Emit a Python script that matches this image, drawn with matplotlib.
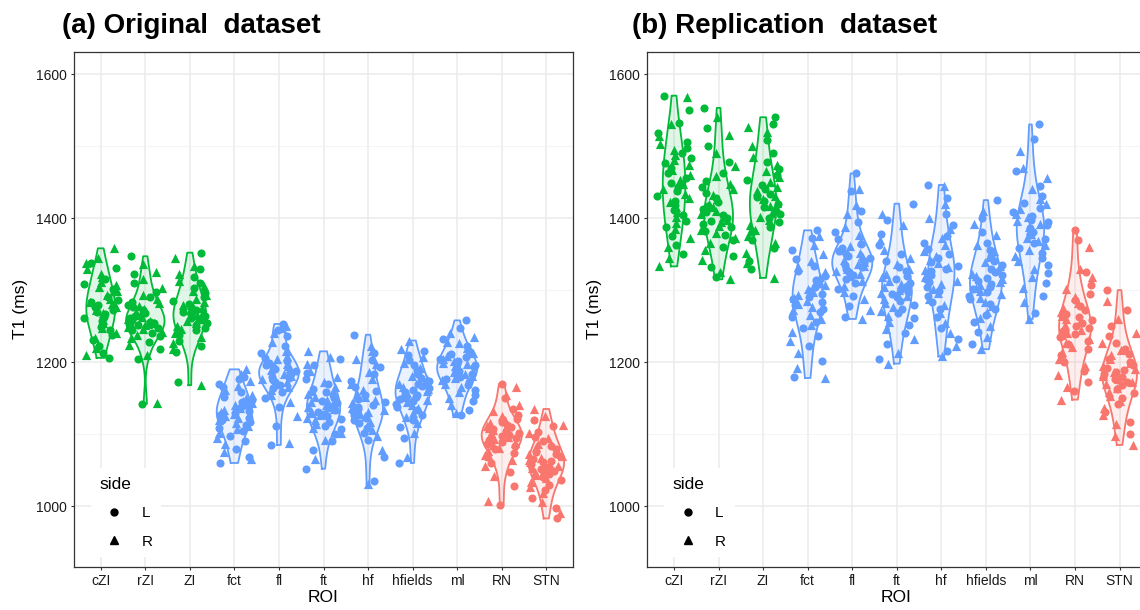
import numpy as np
import matplotlib.pyplot as plt
from matplotlib.lines import Line2D

plt.rcParams['font.family'] = ['Liberation Sans', 'DejaVu Sans']

rois = ["cZI", "rZI", "ZI", "fct", "fl", "ft", "hf", "hfields", "ml", "RN", "STN"]
roi_colors = ["#00BA38"] * 3 + ["#619CFF"] * 6 + ["#F8766D"] * 2

# (a) original dataset, T1 in ms, L = left side (circles), R = right side (triangles)
a_cZI_L = [1206, 1213, 1222, 1231, 1238, 1244, 1249, 1252, 1257, 1261, 1263, 1267, 1270, 1272, 1276, 1279, 1283, 1286, 1291, 1297, 1301, 1308, 1316, 1331, 1338]
a_cZI_R = [1210, 1219, 1234, 1241, 1247, 1254, 1259, 1265, 1268, 1273, 1277, 1281, 1284, 1288, 1293, 1299, 1304, 1307, 1311, 1318, 1323, 1329, 1337, 1344, 1358]
a_rZI_L = [1142, 1205, 1218, 1228, 1236, 1240, 1244, 1247, 1250, 1252, 1254, 1256, 1258, 1261, 1264, 1268, 1272, 1276, 1280, 1284, 1290, 1298, 1310, 1322, 1347]
a_rZI_R = [1143, 1210, 1224, 1233, 1238, 1242, 1246, 1249, 1251, 1253, 1255, 1257, 1260, 1263, 1266, 1270, 1274, 1278, 1282, 1287, 1293, 1303, 1315, 1325, 1336]
a_ZI_L = [1172, 1214, 1222, 1230, 1238, 1244, 1248, 1252, 1255, 1258, 1261, 1264, 1267, 1270, 1273, 1277, 1281, 1285, 1290, 1296, 1303, 1310, 1318, 1330, 1352]
a_ZI_R = [1168, 1218, 1227, 1235, 1241, 1246, 1250, 1254, 1257, 1260, 1263, 1266, 1269, 1272, 1275, 1279, 1283, 1288, 1293, 1299, 1306, 1313, 1322, 1334, 1345]
a_fct_L = [1060, 1068, 1080, 1090, 1098, 1104, 1109, 1113, 1117, 1120, 1123, 1126, 1129, 1132, 1135, 1138, 1141, 1144, 1148, 1152, 1158, 1165, 1170, 1176, 1180]
a_fct_R = [1065, 1075, 1086, 1095, 1101, 1107, 1111, 1115, 1119, 1122, 1125, 1128, 1131, 1134, 1137, 1140, 1143, 1146, 1150, 1155, 1161, 1167, 1174, 1183, 1190]
a_fl_L = [1085, 1112, 1138, 1150, 1158, 1164, 1168, 1172, 1175, 1178, 1180, 1183, 1185, 1188, 1190, 1193, 1196, 1199, 1202, 1206, 1212, 1222, 1236, 1245, 1253]
a_fl_R = [1088, 1125, 1145, 1155, 1161, 1166, 1170, 1173, 1176, 1179, 1181, 1184, 1186, 1189, 1192, 1194, 1197, 1200, 1204, 1209, 1216, 1228, 1240, 1248, 1250]
a_ft_L = [1052, 1078, 1090, 1100, 1107, 1112, 1117, 1121, 1125, 1128, 1131, 1134, 1137, 1140, 1143, 1146, 1150, 1154, 1158, 1163, 1169, 1177, 1185, 1196, 1205]
a_ft_R = [1066, 1092, 1102, 1109, 1114, 1119, 1123, 1126, 1129, 1132, 1135, 1138, 1141, 1144, 1148, 1152, 1156, 1160, 1166, 1172, 1180, 1188, 1198, 1207, 1215]
a_hf_L = [1035, 1068, 1092, 1102, 1109, 1115, 1119, 1123, 1126, 1129, 1132, 1135, 1138, 1141, 1145, 1149, 1154, 1160, 1166, 1174, 1183, 1193, 1203, 1212, 1238]
a_hf_R = [1031, 1078, 1097, 1106, 1112, 1117, 1121, 1125, 1128, 1131, 1134, 1137, 1140, 1143, 1147, 1151, 1156, 1162, 1169, 1177, 1187, 1197, 1205, 1215, 1222]
a_hfields_L = [1060, 1095, 1110, 1120, 1127, 1133, 1138, 1142, 1146, 1149, 1152, 1155, 1158, 1161, 1164, 1167, 1170, 1174, 1178, 1183, 1189, 1196, 1203, 1210, 1215]
a_hfields_R = [1068, 1102, 1115, 1124, 1130, 1136, 1140, 1144, 1148, 1151, 1154, 1157, 1160, 1163, 1166, 1169, 1172, 1176, 1181, 1186, 1192, 1199, 1207, 1218, 1230]
a_ml_L = [1126, 1134, 1146, 1155, 1162, 1168, 1173, 1177, 1180, 1183, 1186, 1188, 1191, 1193, 1196, 1198, 1201, 1204, 1207, 1211, 1216, 1222, 1232, 1248, 1258]
a_ml_R = [1130, 1140, 1150, 1158, 1165, 1170, 1175, 1178, 1181, 1184, 1187, 1189, 1192, 1194, 1197, 1199, 1202, 1205, 1209, 1213, 1219, 1226, 1235, 1240, 1228]
a_RN_L = [1002, 1028, 1048, 1060, 1068, 1074, 1079, 1083, 1086, 1089, 1092, 1094, 1097, 1099, 1102, 1104, 1107, 1110, 1113, 1117, 1121, 1127, 1135, 1150, 1170]
a_RN_R = [1007, 1042, 1056, 1064, 1071, 1076, 1081, 1085, 1088, 1091, 1093, 1096, 1098, 1101, 1103, 1106, 1109, 1112, 1115, 1119, 1125, 1132, 1140, 1155, 1165]
a_STN_L = [983, 998, 1012, 1022, 1030, 1036, 1041, 1045, 1049, 1052, 1055, 1058, 1061, 1063, 1066, 1069, 1072, 1075, 1079, 1084, 1090, 1096, 1103, 1112, 1120]
a_STN_R = [990, 1006, 1018, 1026, 1033, 1039, 1043, 1047, 1050, 1053, 1056, 1059, 1062, 1064, 1067, 1070, 1073, 1077, 1082, 1087, 1094, 1102, 1113, 1125, 1135]

# (b) replication dataset
b_cZI_L = [1350, 1362, 1375, 1388, 1396, 1404, 1411, 1418, 1424, 1430, 1437, 1443, 1449, 1456, 1463, 1470, 1477, 1484, 1490, 1497, 1506, 1518, 1532, 1550, 1570]
b_cZI_R = [1333, 1345, 1360, 1372, 1385, 1393, 1401, 1408, 1415, 1422, 1428, 1434, 1441, 1447, 1453, 1460, 1467, 1474, 1481, 1488, 1495, 1503, 1514, 1530, 1568]
b_rZI_L = [1318, 1332, 1348, 1360, 1369, 1376, 1382, 1387, 1392, 1396, 1400, 1404, 1408, 1412, 1417, 1422, 1428, 1435, 1443, 1452, 1463, 1478, 1500, 1525, 1553]
b_rZI_R = [1315, 1325, 1342, 1355, 1365, 1373, 1379, 1384, 1389, 1394, 1398, 1402, 1406, 1410, 1415, 1420, 1426, 1432, 1440, 1448, 1458, 1472, 1490, 1515, 1540]
b_ZI_L = [1330, 1340, 1358, 1370, 1380, 1388, 1394, 1400, 1405, 1410, 1415, 1419, 1424, 1429, 1434, 1440, 1446, 1453, 1460, 1468, 1478, 1490, 1508, 1530, 1540]
b_ZI_R = [1317, 1337, 1352, 1365, 1375, 1384, 1391, 1397, 1402, 1407, 1412, 1417, 1421, 1426, 1431, 1437, 1443, 1450, 1457, 1465, 1474, 1485, 1500, 1520, 1527]
b_fct_L = [1180, 1202, 1222, 1236, 1247, 1256, 1263, 1269, 1274, 1279, 1283, 1287, 1291, 1295, 1299, 1304, 1309, 1314, 1320, 1327, 1334, 1343, 1355, 1372, 1383]
b_fct_R = [1178, 1192, 1212, 1229, 1242, 1252, 1260, 1266, 1272, 1277, 1281, 1285, 1289, 1293, 1297, 1302, 1307, 1312, 1318, 1325, 1332, 1340, 1350, 1363, 1375]
b_fl_L = [1262, 1278, 1292, 1302, 1310, 1316, 1321, 1325, 1329, 1332, 1335, 1338, 1341, 1344, 1347, 1350, 1354, 1358, 1364, 1371, 1381, 1394, 1410, 1437, 1462]
b_fl_R = [1260, 1273, 1287, 1298, 1306, 1313, 1319, 1323, 1327, 1330, 1333, 1336, 1339, 1342, 1345, 1348, 1352, 1356, 1361, 1368, 1377, 1388, 1405, 1418, 1440]
b_ft_L = [1205, 1225, 1240, 1252, 1261, 1268, 1274, 1280, 1285, 1290, 1294, 1298, 1302, 1306, 1310, 1315, 1320, 1326, 1332, 1340, 1350, 1362, 1378, 1398, 1420]
b_ft_R = [1198, 1212, 1232, 1246, 1256, 1264, 1271, 1277, 1282, 1287, 1292, 1296, 1300, 1304, 1308, 1313, 1318, 1323, 1329, 1336, 1345, 1356, 1370, 1390, 1405]
b_hf_L = [1215, 1232, 1248, 1262, 1274, 1284, 1292, 1299, 1305, 1311, 1316, 1321, 1326, 1330, 1334, 1339, 1344, 1350, 1357, 1365, 1375, 1390, 1405, 1428, 1446]
b_hf_R = [1208, 1222, 1240, 1255, 1268, 1279, 1288, 1296, 1302, 1308, 1313, 1318, 1323, 1328, 1332, 1337, 1342, 1347, 1354, 1362, 1372, 1385, 1400, 1420, 1445]
b_hfields_L = [1225, 1242, 1256, 1266, 1274, 1281, 1287, 1292, 1297, 1301, 1305, 1309, 1313, 1317, 1321, 1325, 1330, 1335, 1341, 1348, 1356, 1366, 1380, 1400, 1425]
b_hfields_R = [1218, 1235, 1250, 1261, 1270, 1278, 1284, 1289, 1294, 1299, 1303, 1307, 1311, 1315, 1319, 1323, 1328, 1333, 1339, 1346, 1354, 1363, 1376, 1392, 1410]
b_ml_L = [1268, 1292, 1310, 1324, 1335, 1344, 1352, 1359, 1365, 1371, 1376, 1381, 1386, 1390, 1394, 1398, 1403, 1408, 1414, 1421, 1430, 1444, 1465, 1510, 1530]
b_ml_R = [1260, 1284, 1303, 1318, 1330, 1340, 1348, 1355, 1362, 1368, 1373, 1378, 1383, 1388, 1392, 1396, 1401, 1406, 1412, 1419, 1427, 1440, 1455, 1470, 1493]
b_RN_L = [1160, 1172, 1188, 1200, 1210, 1218, 1225, 1230, 1235, 1239, 1243, 1247, 1250, 1254, 1258, 1262, 1267, 1272, 1278, 1286, 1295, 1307, 1325, 1370, 1383]
b_RN_R = [1148, 1165, 1182, 1195, 1205, 1214, 1221, 1227, 1232, 1237, 1241, 1245, 1249, 1252, 1256, 1260, 1264, 1269, 1275, 1282, 1291, 1302, 1318, 1330, 1360]
b_STN_L = [1100, 1117, 1131, 1142, 1150, 1157, 1163, 1168, 1172, 1176, 1180, 1183, 1186, 1189, 1192, 1196, 1200, 1205, 1211, 1218, 1226, 1236, 1250, 1272, 1300]
b_STN_R = [1085, 1097, 1114, 1127, 1137, 1146, 1153, 1159, 1164, 1169, 1173, 1177, 1181, 1184, 1187, 1190, 1194, 1199, 1204, 1210, 1217, 1226, 1240, 1260, 1285]

orig_L = [a_cZI_L, a_rZI_L, a_ZI_L, a_fct_L, a_fl_L, a_ft_L, a_hf_L, a_hfields_L, a_ml_L, a_RN_L, a_STN_L]
orig_R = [a_cZI_R, a_rZI_R, a_ZI_R, a_fct_R, a_fl_R, a_ft_R, a_hf_R, a_hfields_R, a_ml_R, a_RN_R, a_STN_R]
repl_L = [b_cZI_L, b_rZI_L, b_ZI_L, b_fct_L, b_fl_L, b_ft_L, b_hf_L, b_hfields_L, b_ml_L, b_RN_L, b_STN_L]
repl_R = [b_cZI_R, b_rZI_R, b_ZI_R, b_fct_R, b_fl_R, b_ft_R, b_hf_R, b_hfields_R, b_ml_R, b_RN_R, b_STN_R]


def violin_density(vals, adjust=1.4):
    # gaussian kde (bw.nrd0 * adjust), trimmed to the data range like ggplot
    v = np.asarray(vals, dtype=float)
    n = len(v)
    iqr = np.subtract(*np.percentile(v, [75, 25]))
    bw = adjust * 0.9 * min(v.std(ddof=1), iqr / 1.34) * n ** -0.2
    y = np.linspace(v.min(), v.max(), 400)
    d = np.exp(-0.5 * ((y[:, None] - v[None, :]) / bw) ** 2).sum(axis=1) / (n * bw * np.sqrt(2 * np.pi))
    return y, d


def jitter(n, seed):
    # fixed hash-style horizontal offsets in +-0.4, like geom_jitter's default width
    k = np.arange(1, n + 1)
    h = np.sin(k * 12.9898 + seed * 78.233) * 43758.5453
    return (h - np.floor(h) - 0.5) * 0.8


def draw_panel(ax, L_vals, R_vals):
    dens = []
    for lv, rv in zip(L_vals, R_vals):
        dens.append(violin_density(lv + rv))
    dmax = max(d.max() for _, d in dens)

    for i, (y, d) in enumerate(dens):
        c = roi_colors[i]
        half = 0.45 * d / dmax
        ax.fill_betweenx(y, i - half, i + half, color=c, alpha=0.12, lw=0, zorder=2)
        xs = np.concatenate([i - half, (i + half)[::-1], [i - half[0]]])
        ys = np.concatenate([y, y[::-1], [y[0]]])
        ax.plot(xs, ys, color=c, lw=1.3, zorder=3)

    for i, (lv, rv) in enumerate(zip(L_vals, R_vals)):
        c = roi_colors[i]
        ax.scatter(i + jitter(len(lv), 2 * i + 1), lv, s=34, marker='o', color=c, lw=0, zorder=4)
        ax.scatter(i + jitter(len(rv), 2 * i + 2), rv, s=44, marker='^', color=c, lw=0, zorder=4)

    ax.set_xlim(-0.6, len(rois) - 0.4)
    ax.set_ylim(916, 1631)
    ax.set_xticks(range(len(rois)))
    ax.set_xticklabels(rois)
    ax.set_yticks([1000, 1200, 1400, 1600])
    ax.set_yticks([1100, 1300, 1500], minor=True)
    ax.grid(which='major', color='#EBEBEB', lw=1.1)
    ax.grid(which='minor', axis='y', color='#F2F2F2', lw=0.6)
    ax.tick_params(axis='both', which='major', length=2.5, width=0.8, color='#333333',
                   labelsize=10, labelcolor='#1a1a1a', pad=2.5)
    ax.tick_params(axis='y', which='minor', length=0)
    ax.set_axisbelow(True)
    for s in ax.spines.values():
        s.set_color('#333333')
        s.set_linewidth(0.9)

    handles = [Line2D([], [], marker='o', color='black', lw=0, markersize=5),
               Line2D([], [], marker='^', color='black', lw=0, markersize=6)]
    leg = ax.legend(handles, ['L', 'R'], title='side', loc='lower left',
                    bbox_to_anchor=(0.018, 0.004), frameon=True, fontsize=11,
                    title_fontsize=12.5, handletextpad=0.8, labelspacing=0.95,
                    borderpad=0.55, handlelength=2.0)
    leg.get_frame().set_edgecolor('none')
    leg.get_frame().set_facecolor('white')
    leg.get_frame().set_alpha(1)
    leg._legend_box.align = 'left'


fig = plt.figure(figsize=(11.4, 6.1), dpi=100)
W, H = 1140, 610
ax_a = fig.add_axes([74 / W, (H - 566.7) / H, 499 / W, 515 / H])
ax_b = fig.add_axes([647.3 / W, (H - 566.7) / H, 499 / W, 515 / H])

draw_panel(ax_a, orig_L, orig_R)
draw_panel(ax_b, repl_L, repl_R)

fig.text(62 / W, 1 - 33 / H, "(a) Original  dataset", fontsize=20, fontweight='bold', va='baseline')
fig.text(632 / W, 1 - 33 / H, "(b) Replication  dataset", fontsize=20, fontweight='bold', va='baseline')
fig.text(20 / W, 1 - 309 / H, "T1 (ms)", fontsize=12.5, rotation=90, ha='center', va='center')
fig.text(594 / W, 1 - 309 / H, "T1 (ms)", fontsize=12.5, rotation=90, ha='center', va='center')
fig.text(323.5 / W, 1 - 598 / H, "ROI", fontsize=12.5, ha='center', va='center')
fig.text(896.5 / W, 1 - 598 / H, "ROI", fontsize=12.5, ha='center', va='center')

fig.savefig("out.png", dpi=100)
